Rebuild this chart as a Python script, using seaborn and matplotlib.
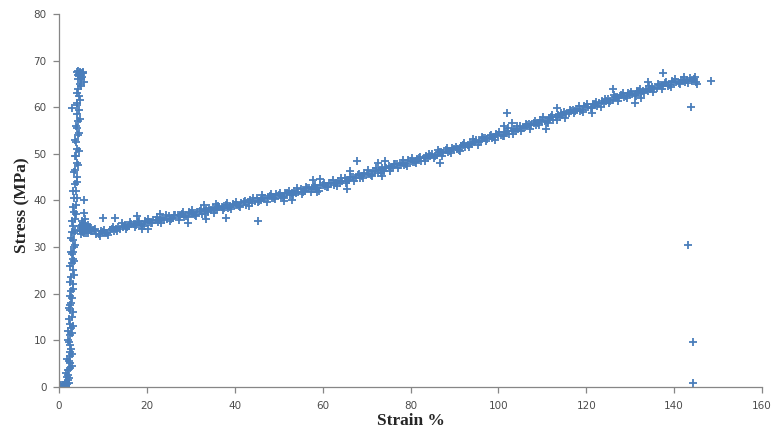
import matplotlib
matplotlib.use("Agg")
import matplotlib.pyplot as plt
import seaborn as sns
import pandas as pd

# ---- elastic region + yield (strain %, stress MPa)
elastic_strain = [0.2, 0.5, 0.8, 1.0, 1.2, 1.4, 1.6, 1.7, 1.9, 2.0, 2.1, 2.3, 2.0, 2.4, 2.2, 2.6, 2.4, 2.8,
                  2.3, 2.5, 2.7, 2.4, 2.9, 2.6, 2.8, 3.0, 2.7, 3.1, 2.8, 3.2, 2.9, 3.3, 3.0, 3.4, 3.1, 3.5,
                  3.2, 3.6, 3.4, 3.8, 3.5, 3.9, 3.6, 4.0, 3.7, 4.1, 3.8, 4.2, 3.9, 4.3, 4.0, 4.4, 4.1, 4.5,
                  4.2, 4.6, 4.3, 4.7, 4.4, 4.5, 4.8, 5.0, 5.2, 4.6, 5.5, 5.8, 5.3, 3.0, 2.9, 5.6, 5.6, 5.9,
                  1.8, 2.2, 2.6, 1.5, 2.5, 3.3, 2.3]
elastic_stress = [0.1, 0.3, 0.0, 0.4, 0.2, 0.6, 0.3, 1.0, 0.5, 1.5, 2.5, 1.8, 3.5, 4.0, 5.5, 6.5, 7.5, 8.0,
                  9.5, 11.0, 12.5, 13.5, 15.0, 16.5, 18.0, 19.0, 20.5, 22.0, 23.5, 25.0, 26.5, 27.5, 28.5, 30.0,
                  31.5, 33.0, 34.5, 36.0, 37.5, 39.0, 40.5, 42.0, 43.5, 45.0, 46.5, 48.0, 49.5, 51.0, 52.5, 54.0,
                  55.5, 57.0, 58.5, 59.5, 61.0, 62.5, 64.0, 65.0, 66.0, 67.2, 67.6, 67.0, 67.4, 66.8, 67.3, 65.5,
                  66.5, 59.8, 33.3, 40.0, 37.2, 36.0, 2.0, 0.8, 5.0, 0.2, 9.0, 29.0, 17.0]

elastic2_strain = [1.6, 2.9, 1.9, 3.0, 2.0, 2.1, 3.0, 2.2, 3.2, 2.4, 3.3, 2.5, 3.3, 2.6, 3.4, 2.5, 3.5, 2.7,
                   3.6, 2.8, 3.7, 3.0, 3.9, 3.2, 4.1, 3.3, 4.2, 3.4, 4.3, 3.6, 4.5, 3.7, 4.6, 3.8, 4.7, 4.0,
                   4.8, 4.2, 5.0, 4.1, 4.3, 4.9, 5.1, 4.4, 4.7, 5.4]
elastic2_stress = [3.0, 4.5, 6.0, 7.0, 10.0, 12.0, 11.5, 14.5, 13.0, 17.5, 16.0, 19.5, 21.0, 22.5, 24.0,
                   26.0, 27.0, 29.0, 30.5, 32.0, 33.5, 35.5, 37.0, 38.5, 40.5, 42.0, 44.0, 46.0, 47.5, 49.5,
                   50.5, 53.0, 54.5, 56.0, 57.5, 60.5, 61.5, 63.0, 64.5, 67.5, 67.0, 66.2, 66.0, 67.8, 67.4,
                   67.6]

yield_strain = [4.8, 5.0, 5.2, 5.4, 5.5, 5.6, 5.8, 5.9, 6.0, 6.2, 6.3, 6.5, 6.6, 4.9, 5.3, 6.1, 6.8, 7.0, 7.2,
                7.5, 5.1, 5.7, 6.4, 4.7]
yield_stress = [34.5, 33.5, 34.8, 33.2, 35.2, 34.0, 33.0, 34.6, 35.0, 33.6, 34.3, 33.1, 34.8, 32.8, 35.5,
                32.9, 33.8, 34.2, 33.4, 33.5, 34.1, 33.8, 34.0, 33.6]

# ---- plastic (drawing) region, integer strains
band_a_strain = [8, 9, 10, 11, 12, 13, 14, 15, 16, 17, 18, 19, 20, 21, 22, 23, 24, 25, 26, 27, 28, 29, 30,
                 31, 32, 33, 34, 35, 36, 37, 38, 39, 40, 41, 42, 43, 44, 45, 46, 47, 48, 49, 50, 51, 52, 53,
                 54, 55, 56, 57, 58, 59, 60, 61, 62, 63, 64, 65, 66, 67, 68, 69, 70, 71, 72, 73, 74, 75, 76,
                 77, 78, 79, 80, 81, 82, 83, 84, 85, 86, 87, 88, 89, 90, 91, 92, 93, 94, 95, 96, 97, 98, 99,
                 100, 101, 102, 103, 104, 105, 106, 107, 108, 109, 110, 111, 112, 113, 114, 115, 116, 117,
                 118, 119, 120, 121, 122, 123, 124, 125, 126, 127, 128, 129, 130, 131, 132, 133, 134, 135,
                 136, 137, 138, 139, 140, 141, 142, 143, 144]
band_a_stress = [33.6, 32.8, 33.2, 32.95, 33.8, 33.9, 33.9, 34.8, 34.5, 35.0, 35.3, 34.95, 35.4, 35.1, 35.85,
                 35.85, 35.7, 36.6, 36.3, 36.75, 37.05, 36.7, 37.2, 36.9, 37.65, 37.65, 37.5, 38.4, 38.1,
                 38.6, 38.9, 38.6, 39.1, 38.8, 39.6, 39.6, 39.5, 40.4, 40.1, 40.6, 40.9, 40.6, 41.1, 40.8,
                 41.6, 41.6, 41.5, 42.4, 42.1, 42.6, 42.95, 42.65, 43.2, 42.95, 43.8, 43.8, 43.75, 44.7,
                 44.45, 45.0, 45.4, 45.15, 45.7, 45.5, 46.35, 46.45, 46.4, 47.4, 47.15, 47.7, 48.1, 47.85,
                 48.4, 48.15, 49.0, 49.1, 49.05, 50.0, 49.8, 50.35, 50.75, 50.5, 51.1, 50.9, 51.85, 51.95,
                 52.0, 53.0, 52.8, 53.4, 53.75, 53.55, 54.1, 53.9, 54.8, 54.9, 54.9, 55.9, 55.7, 56.3, 56.7,
                 56.5, 57.1, 56.9, 57.8, 57.9, 57.9, 58.9, 58.7, 59.3, 59.7, 59.5, 60.1, 59.9, 60.75, 60.85,
                 60.8, 61.8, 61.6, 62.15, 62.55, 62.3, 62.9, 62.65, 63.5, 63.5, 63.45, 64.4, 64.15, 64.7,
                 65.1, 64.85, 65.4, 65.1, 65.85, 65.8, 65.7]

# ---- plastic region, half-integer strains
band_b_strain = [8.5, 9.5, 10.5, 11.5, 12.5, 13.5, 14.5, 15.5, 16.5, 17.5, 18.5, 19.5, 20.5, 21.5, 22.5,
                 23.5, 24.5, 25.5, 26.5, 27.5, 28.5, 29.5, 30.5, 31.5, 32.5, 33.5, 34.5, 35.5, 36.5, 37.5,
                 38.5, 39.5, 40.5, 41.5, 42.5, 43.5, 44.5, 45.5, 46.5, 47.5, 48.5, 49.5, 50.5, 51.5, 52.5,
                 53.5, 54.5, 55.5, 56.5, 57.5, 58.5, 59.5, 60.5, 61.5, 62.5, 63.5, 64.5, 65.5, 66.5, 67.5,
                 68.5, 69.5, 70.5, 71.5, 72.5, 73.5, 74.5, 75.5, 76.5, 77.5, 78.5, 79.5, 80.5, 81.5, 82.5,
                 83.5, 84.5, 85.5, 86.5, 87.5, 88.5, 89.5, 90.5, 91.5, 92.5, 93.5, 94.5, 95.5, 96.5, 97.5,
                 98.5, 99.5, 100.5, 101.5, 102.5, 103.5, 104.5, 105.5, 106.5, 107.5, 108.5, 109.5, 110.5,
                 111.5, 112.5, 113.5, 114.5, 115.5, 116.5, 117.5, 118.5, 119.5, 120.5, 121.5, 122.5, 123.5,
                 124.5, 125.5, 126.5, 127.5, 128.5, 129.5, 130.5, 131.5, 132.5, 133.5, 134.5, 135.5, 136.5,
                 137.5, 138.5, 139.5, 140.5, 141.5, 142.5, 143.5, 144.5, 145.0, 144.8]
band_b_stress = [32.85, 33.45, 33.1, 33.7, 33.35, 34.35, 34.3, 34.3, 35.0, 34.8, 34.8, 35.6, 35.3, 35.8,
                 35.35, 36.2, 36.1, 36.1, 36.8, 36.55, 36.5, 37.4, 37.1, 37.6, 37.15, 38.0, 37.9, 37.9,
                 38.6, 38.4, 38.4, 39.3, 39.0, 39.5, 39.1, 40.0, 39.9, 39.9, 40.6, 40.4, 40.4, 41.3, 41.0,
                 41.5, 41.1, 42.0, 41.9, 41.9, 42.6, 42.4, 42.45, 43.35, 43.1, 43.65, 43.3, 44.2, 44.2,
                 44.2, 45.0, 44.85, 44.9, 45.9, 45.65, 46.2, 45.9, 46.9, 46.85, 46.9, 47.7, 47.55, 47.6,
                 48.6, 48.3, 48.9, 48.55, 49.5, 49.5, 49.55, 50.3, 50.2, 50.3, 51.25, 51.05, 51.7, 51.4,
                 52.4, 52.45, 52.55, 53.35, 53.2, 53.3, 54.3, 54.05, 54.65, 54.35, 55.35, 55.35, 55.45,
                 56.25, 56.15, 56.25, 57.25, 57.05, 57.65, 57.35, 58.35, 58.35, 58.45, 59.25, 59.15, 59.25,
                 60.25, 60.05, 60.6, 60.3, 61.3, 61.25, 61.35, 62.1, 62.0, 62.1, 63.05, 62.8, 63.4, 63.0,
                 63.9, 63.9, 63.9, 64.7, 64.55, 64.6, 65.6, 65.3, 65.8, 65.3, 66.2, 66.0, 65.4, 66.5]

# ---- plastic region, quarter strains (wider spread)
band_c_strain = [8.25, 9.25, 10.25, 11.25, 12.25, 13.25, 14.25, 15.25, 16.25, 17.25, 18.25, 19.25, 20.25,
                 21.25, 22.25, 23.25, 24.25, 25.25, 26.25, 27.25, 28.25, 29.25, 30.25, 31.25, 32.25, 33.25,
                 34.25, 35.25, 36.25, 37.25, 38.25, 39.25, 40.25, 41.25, 42.25, 43.25, 44.25, 45.25, 46.25,
                 47.25, 48.25, 49.25, 50.25, 51.25, 52.25, 53.25, 54.25, 55.25, 56.25, 57.25, 58.25, 59.25,
                 60.25, 61.25, 62.25, 63.25, 64.25, 65.25, 66.25, 67.25, 68.25, 69.25, 70.25, 71.25, 72.25,
                 73.25, 74.25, 75.25, 76.25, 77.25, 78.25, 79.25, 80.25, 81.25, 82.25, 83.25, 84.25, 85.25,
                 86.25, 87.25, 88.25, 89.25, 90.25, 91.25, 92.25, 93.25, 94.25, 95.25, 96.25, 97.25, 98.25,
                 99.25, 100.25, 101.25, 102.25, 103.25, 104.25, 105.25, 106.25, 107.25, 108.25, 109.25,
                 110.25, 111.25, 112.25, 113.25, 114.25, 115.25, 116.25, 117.25, 118.25, 119.25, 120.25,
                 121.25, 122.25, 123.25, 124.25, 125.25, 126.25, 127.25, 128.25, 129.25, 130.25, 131.25,
                 132.25, 133.25, 134.25, 135.25, 136.25, 137.25, 138.25, 139.25, 140.25, 141.25, 142.25,
                 143.25]
band_c_stress = [33.9, 32.4, 33.65, 32.6, 34.3, 33.5, 35.05, 33.75, 35.35, 34.25, 35.55, 34.4, 35.95, 35.05,
                 36.5, 35.2, 36.75, 35.65, 36.95, 35.8, 37.4, 36.45, 37.95, 36.65, 38.2, 37.1, 38.35, 37.25,
                 38.85, 37.95, 39.45, 38.15, 39.75, 38.65, 39.95, 38.85, 40.45, 39.55, 41.05, 39.75, 41.35,
                 40.25, 41.55, 40.45, 42.05, 41.15, 42.65, 41.35, 42.95, 41.85, 43.2, 42.1, 43.75, 42.9,
                 44.45, 43.15, 44.8, 43.75, 45.1, 44.05, 45.75, 44.9, 46.45, 45.25, 46.9, 45.9, 47.25,
                 46.25, 47.9, 47.05, 48.65, 47.4, 49.05, 48.0, 49.35, 48.35, 50.0, 49.15, 50.75, 49.5,
                 51.2, 50.15, 51.55, 50.6, 52.3, 51.55, 53.15, 51.95, 53.65, 52.65, 54.0, 53.0, 54.65,
                 53.85, 55.45, 54.25, 55.95, 54.95, 56.35, 55.35, 57.05, 56.25, 57.85, 56.65, 58.35, 57.35,
                 58.75, 57.75, 59.45, 58.65, 60.25, 59.05, 60.75, 59.75, 61.1, 60.1, 61.75, 60.95, 62.55,
                 61.3, 63.0, 61.95, 63.35, 62.3, 63.95, 63.05, 64.6, 63.35, 65.0, 63.95, 65.35, 64.3,
                 65.95, 65.05, 66.5, 65.15]

# ---- scattered outliers
outlier_strain = [9.95, 12.8, 17.8, 18.8, 20.2, 29.3, 33.4, 37.9, 45.3, 33.0, 35.7, 23.0, 67.8, 72.6, 74.3,
                  73.6, 65.5, 86.8, 53.0, 51.1, 58.7, 57.7, 59.5, 66.3, 102.0, 101.2, 103.0, 110.9, 113.4,
                  126.0, 131.0, 121.3, 137.5, 148.3, 132.5, 143.9, 143.2, 144.4, 144.4, 145.2, 134.0]
outlier_stress = [36.3, 36.2, 36.7, 33.8, 33.8, 35.1, 36.1, 36.3, 35.6, 39.1, 39.2, 37.1, 48.5, 48.1, 48.5,
                  45.2, 42.4, 48.1, 40.1, 39.8, 41.8, 44.4, 44.5, 46.3, 58.7, 56.0, 56.5, 55.4, 59.8,
                  63.8, 60.9, 58.7, 67.4, 65.6, 61.9, 60.0, 30.5, 9.7, 0.7, 65.0, 65.3]

x_ticks = [0, 20, 40, 60, 80, 100, 120, 140, 160]
y_ticks = [0, 10, 20, 30, 40, 50, 60, 70, 80]

df = pd.DataFrame({
    "strain": (elastic_strain + elastic2_strain + yield_strain + band_a_strain + band_b_strain
               + band_c_strain + outlier_strain),
    "stress": (elastic_stress + elastic2_stress + yield_stress + band_a_stress + band_b_stress
               + band_c_stress + outlier_stress),
})

sns.set_style("ticks")
plt.rcParams["font.family"] = ["DejaVu Sans"]

fig = plt.figure(figsize=(7.73, 4.30), dpi=100)
ax = fig.add_axes([0.0763, 0.1007, 0.9095, 0.8667])

sns.scatterplot(data=df, x="strain", y="stress", marker="+", s=28, linewidth=1.3,
                color="#4a7ebb", ax=ax, legend=False)

ax.set_xlim(0, 160)
ax.set_ylim(0, 80)
ax.set_xticks(x_ticks)
ax.set_yticks(y_ticks)
ax.tick_params(axis="both", direction="out", length=4, width=0.9, color="#868686",
               labelsize=7.5, labelcolor="#4d4d4d", pad=5)
ax.tick_params(axis="x", pad=6)
for side in ["top", "right"]:
    ax.spines[side].set_visible(False)
for side in ["left", "bottom"]:
    ax.spines[side].set_color("#868686")
    ax.spines[side].set_linewidth(0.9)

ax.set_xlabel("Strain %", family="Liberation Serif", weight="bold", fontsize=12.5)
ax.set_ylabel("Stress (MPa)", family="Liberation Serif", weight="bold", fontsize=12.5)
ax.xaxis.label.set_va("center")
ax.yaxis.label.set_va("center")
ax.xaxis.set_label_coords(0.5, -0.092)
ax.yaxis.set_label_coords(-0.0526, 0.4875)

fig.savefig("out.png", dpi=100)
